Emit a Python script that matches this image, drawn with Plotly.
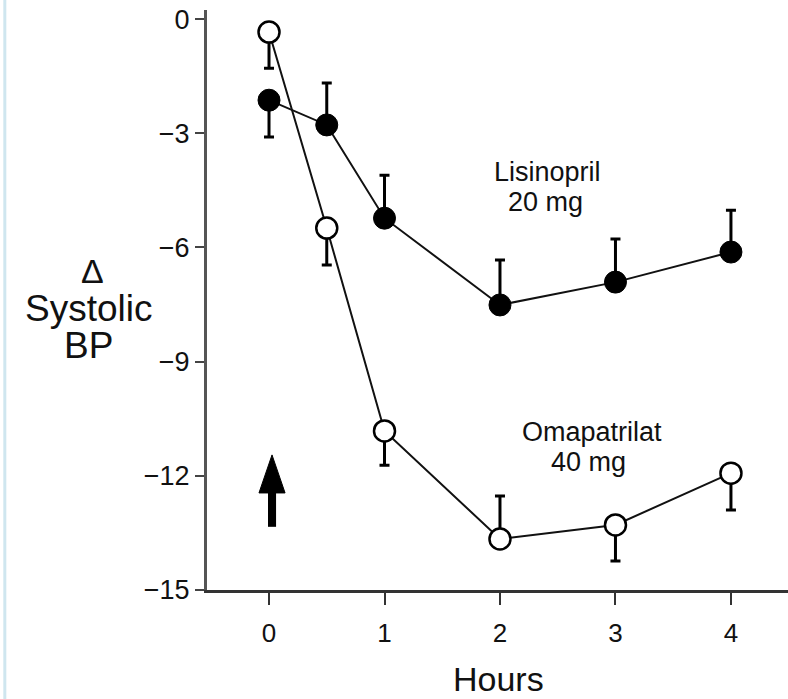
import plotly.graph_objects as go

hours = [0, 0.5, 1, 2, 3, 4]
lisinopril = [-2.13, -2.78, -5.23, -7.51, -6.91, -6.12]
lis_err_up = [0, 1.10, 1.13, 1.18, 1.13, 1.10]
lis_err_down = [0.97, 0, 0, 0, 0, 0]
omapatrilat = [-0.34, -5.49, -10.82, -13.66, -13.29, -11.93]
oma_err_up = [0, 0, 0, 1.13, 0, 0]
oma_err_down = [0.95, 0.97, 0.90, 0, 0.95, 0.97]
x_ticks = [0, 1, 2, 3, 4]
y_ticks = [0, -3, -6, -9, -12, -15]
dose_time = 0.026

FONT = "Liberation Sans, Arial, Helvetica, sans-serif"

fig = go.Figure()
fig.add_trace(go.Scatter(
    x=hours, y=lisinopril, mode="lines+markers", name="Lisinopril 20 mg",
    line=dict(color="#111", width=2),
    marker=dict(symbol="circle", size=22, color="#000", line=dict(color="#000", width=1)),
    error_y=dict(type="data", symmetric=False, array=lis_err_up, arrayminus=lis_err_down,
                 color="#000", thickness=3, width=5),
    cliponaxis=False, showlegend=False))
fig.add_trace(go.Scatter(
    x=hours, y=omapatrilat, mode="lines+markers", name="Omapatrilat 40 mg",
    line=dict(color="#111", width=2),
    marker=dict(symbol="circle", size=21, color="#fff", line=dict(color="#000", width=2.5)),
    error_y=dict(type="data", symmetric=False, array=oma_err_up, arrayminus=oma_err_down,
                 color="#000", thickness=3, width=5),
    cliponaxis=False, showlegend=False))

# dose arrow at time 0
head_half = 0.113
shaft_half = 0.035
fig.add_shape(type="path", xref="x", yref="y",
              path=f"M {dose_time-head_half},-12.45 L {dose_time},-11.45 L {dose_time+head_half},-12.45 Z",
              fillcolor="#000", line=dict(color="#000", width=1))
fig.add_shape(type="rect", xref="x", yref="y",
              x0=dose_time-shaft_half, x1=dose_time+shaft_half, y0=-13.34, y1=-12.40,
              fillcolor="#000", line=dict(color="#000", width=0))

# light blue page border line
fig.add_shape(type="line", xref="paper", yref="paper",
              x0=-0.348, x1=-0.348, y0=-0.2, y1=1.05,
              line=dict(color="#cfe6ef", width=3))

ann_font = dict(family=FONT, size=27, color="#111")
fig.add_annotation(x=2.41, y=-4.02, text="Lisinopril", showarrow=False, font=ann_font)
fig.add_annotation(x=2.39, y=-4.81, text="20 mg", showarrow=False, font=ann_font)
fig.add_annotation(x=2.80, y=-10.85, text="Omapatrilat", showarrow=False, font=ann_font)
fig.add_annotation(x=2.77, y=-11.64, text="40 mg", showarrow=False, font=ann_font)

# y-axis title (stacked)
def px_to_paper(px, py):
    return (px - 207) / 581, (590 - py) / 580

for txt, px, py, sz in [("Δ", 92, 271, 34), ("Systolic", 88, 308, 37), ("BP", 88, 345, 37)]:
    xp, yp = px_to_paper(px, py)
    fig.add_annotation(x=xp, y=yp, xref="paper", yref="paper", text=txt, showarrow=False,
                       xanchor="center", yanchor="middle",
                       font=dict(family=FONT, size=sz, color="#111"))
xp, yp = px_to_paper(498, 679)
fig.add_annotation(x=xp, y=yp, xref="paper", yref="paper", text="Hours", showarrow=False,
                   xanchor="center", yanchor="middle",
                   font=dict(family=FONT, size=34, color="#111"))

fig.update_layout(
    width=788, height=699,
    margin=dict(l=207, r=0, t=10, b=109),
    paper_bgcolor="#fff", plot_bgcolor="#fff",
    font=dict(family=FONT, size=26, color="#111"),
    xaxis=dict(range=[-0.537, 4.494], tickvals=x_ticks, ticks="outside", ticklen=12,
               tickwidth=2, tickcolor="#333", showline=True, linecolor="#333", linewidth=3,
               showgrid=False, zeroline=False, tickfont=dict(size=26), ticklabelstandoff=6),
    yaxis=dict(range=[-15, 0.24], tickvals=y_ticks, ticks="outside", ticklen=9,
               tickwidth=2, tickcolor="#444", showline=True, linecolor="#555", linewidth=3,
               showgrid=False, zeroline=False, tickfont=dict(size=27)),
)

fig.write_html("out.html")
